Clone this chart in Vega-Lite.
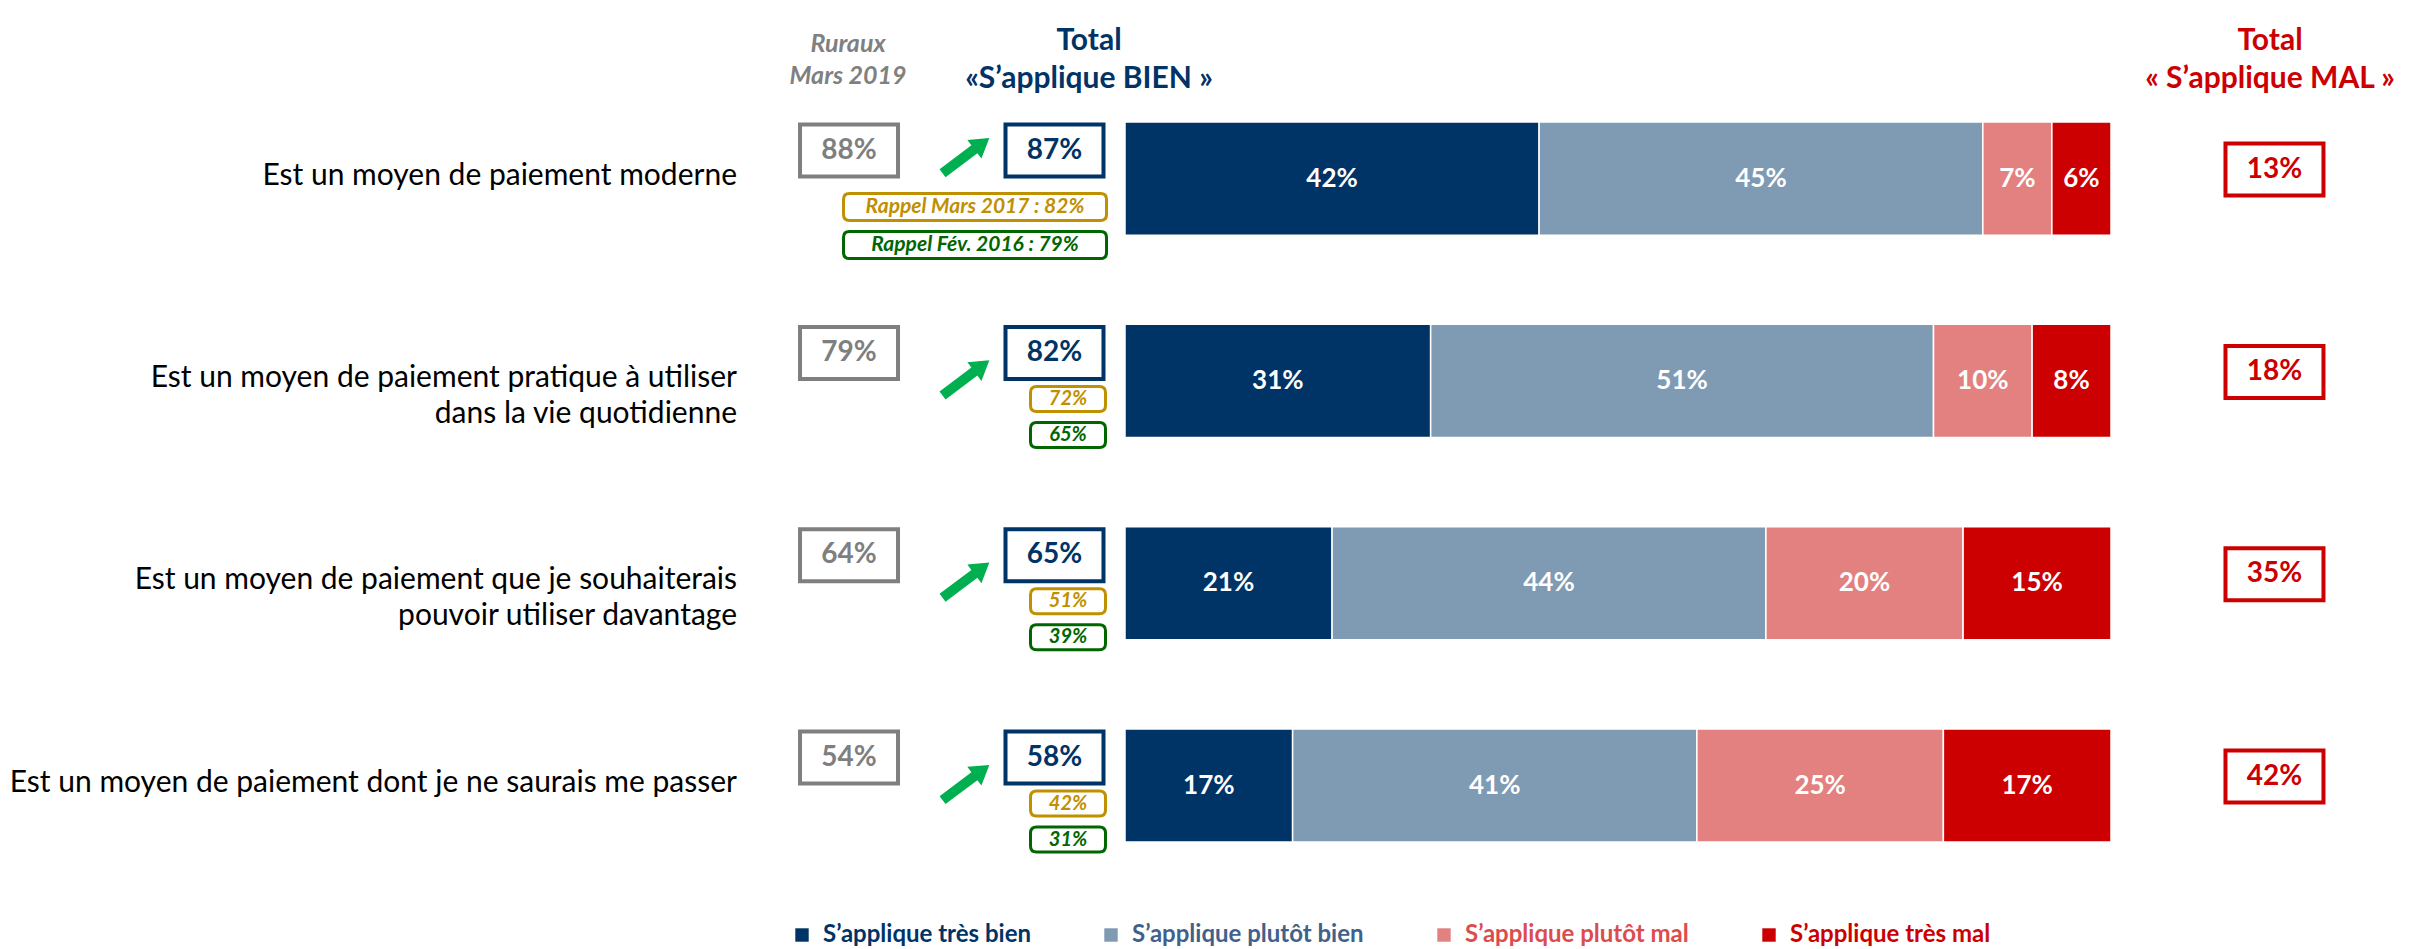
{
  "$schema": "https://vega.github.io/schema/vega-lite/v6.json",
  "width": 2421,
  "height": 949,
  "autosize": {"type": "fit", "contains": "padding"},
  "padding": 0,
  "background": "white",
  "config": {"view": {"stroke": null}, "font": "Lato"},
  "datasets": {
    "bars": [
      {"cat": "Est un moyen de paiement moderne", "level": "S’applique très bien", "pct": 0.42},
      {"cat": "Est un moyen de paiement moderne", "level": "S’applique plutôt bien", "pct": 0.45},
      {"cat": "Est un moyen de paiement moderne", "level": "S’applique plutôt mal", "pct": 0.07},
      {"cat": "Est un moyen de paiement moderne", "level": "S’applique très mal", "pct": 0.06},
      {"cat": "Est un moyen de paiement pratique à utiliser\ndans la vie quotidienne", "level": "S’applique très bien", "pct": 0.31},
      {"cat": "Est un moyen de paiement pratique à utiliser\ndans la vie quotidienne", "level": "S’applique plutôt bien", "pct": 0.51},
      {"cat": "Est un moyen de paiement pratique à utiliser\ndans la vie quotidienne", "level": "S’applique plutôt mal", "pct": 0.10},
      {"cat": "Est un moyen de paiement pratique à utiliser\ndans la vie quotidienne", "level": "S’applique très mal", "pct": 0.08},
      {"cat": "Est un moyen de paiement que je souhaiterais\npouvoir utiliser davantage", "level": "S’applique très bien", "pct": 0.21},
      {"cat": "Est un moyen de paiement que je souhaiterais\npouvoir utiliser davantage", "level": "S’applique plutôt bien", "pct": 0.44},
      {"cat": "Est un moyen de paiement que je souhaiterais\npouvoir utiliser davantage", "level": "S’applique plutôt mal", "pct": 0.20},
      {"cat": "Est un moyen de paiement que je souhaiterais\npouvoir utiliser davantage", "level": "S’applique très mal", "pct": 0.15},
      {"cat": "Est un moyen de paiement dont je ne saurais me passer", "level": "S’applique très bien", "pct": 0.17},
      {"cat": "Est un moyen de paiement dont je ne saurais me passer", "level": "S’applique plutôt bien", "pct": 0.41},
      {"cat": "Est un moyen de paiement dont je ne saurais me passer", "level": "S’applique plutôt mal", "pct": 0.25},
      {"cat": "Est un moyen de paiement dont je ne saurais me passer", "level": "S’applique très mal", "pct": 0.17}
    ],
    "items": [
      {"cat": "Est un moyen de paiement moderne", "ruraux": 0.88, "bien": 0.87, "r2017": 0.82, "r2016": 0.79, "mal": 0.13},
      {"cat": "Est un moyen de paiement pratique à utiliser\ndans la vie quotidienne", "ruraux": 0.79, "bien": 0.82, "r2017": 0.72, "r2016": 0.65, "mal": 0.18},
      {"cat": "Est un moyen de paiement que je souhaiterais\npouvoir utiliser davantage", "ruraux": 0.64, "bien": 0.65, "r2017": 0.51, "r2016": 0.39, "mal": 0.35},
      {"cat": "Est un moyen de paiement dont je ne saurais me passer", "ruraux": 0.54, "bien": 0.58, "r2017": 0.42, "r2016": 0.31, "mal": 0.42}
    ]
  },
  "layer": [
    {
      "data": {"name": "bars"},
      "transform": [
        {"calculate": "indexof(['S’applique très bien','S’applique plutôt bien','S’applique plutôt mal','S’applique très mal'], datum.level)", "as": "ord"},
        {"stack": "pct", "groupby": ["cat"], "sort": [{"field": "ord", "order": "ascending"}], "as": ["x0", "x1"]},
        {"calculate": "(datum.x0 + datum.x1) / 2", "as": "xm"}
      ],
      "layer": [
        {
          "mark": {"type": "bar", "stroke": "white", "strokeWidth": 1.5},
          "encoding": {
            "x": {"field": "x0", "type": "quantitative", "scale": {"domain": [-1.14097, 1.3144], "nice": false, "zero": false}, "axis": null},
            "x2": {"field": "x1"},
            "y": {"field": "cat", "type": "nominal", "scale": {"type": "band", "domain": ["Est un moyen de paiement moderne", "Est un moyen de paiement pratique à utiliser\ndans la vie quotidienne", "Est un moyen de paiement que je souhaiterais\npouvoir utiliser davantage", "Est un moyen de paiement dont je ne saurais me passer"], "paddingInner": 0.441, "paddingOuter": 0.566, "align": 0.533}, "axis": null},
            "color": {
              "field": "level", "type": "nominal",
              "scale": {"domain": ["S’applique très bien", "S’applique plutôt bien", "S’applique plutôt mal", "S’applique très mal"], "range": ["#003366", "#7f9ab3", "#e38080", "#cc0000"]},
              "legend": {
                "orient": "none", "legendX": 790, "legendY": 923, "direction": "horizontal", "title": null,
                "symbolType": "square", "symbolSize": 180, "symbolStrokeWidth": 0,
                "labelFont": "Lato", "labelFontSize": 24, "labelFontWeight": "bold", "labelOffset": 9, "labelLimit": 0,
                "labelColor": {"expr": "datum.value === 'S’applique plutôt bien' ? '#41618c' : datum.value === 'S’applique plutôt mal' ? '#dd4c4c' : datum.value === 'S’applique très mal' ? '#cc0000' : '#003366'"},
                "columnPadding": 68, "padding": 0
              }
            }
          }
        },
        {
          "mark": {"type": "text", "color": "white", "font": "Lato", "fontSize": 26, "fontWeight": "bold", "baseline": "middle"},
          "encoding": {
            "x": {"field": "xm", "type": "quantitative", "scale": {"domain": [-1.14097, 1.3144], "nice": false, "zero": false}, "axis": null},
            "y": {"field": "cat", "type": "nominal", "scale": {"type": "band", "domain": ["Est un moyen de paiement moderne", "Est un moyen de paiement pratique à utiliser\ndans la vie quotidienne", "Est un moyen de paiement que je souhaiterais\npouvoir utiliser davantage", "Est un moyen de paiement dont je ne saurais me passer"], "paddingInner": 0.441, "paddingOuter": 0.566, "align": 0.533}, "axis": null},
            "text": {"field": "pct", "type": "quantitative", "format": ".0%"}
          }
        }
      ]
    },
    {
      "data": {"name": "items"},
      "encoding": {
        "y": {"field": "cat", "type": "nominal", "scale": {"type": "band", "domain": ["Est un moyen de paiement moderne", "Est un moyen de paiement pratique à utiliser\ndans la vie quotidienne", "Est un moyen de paiement que je souhaiterais\npouvoir utiliser davantage", "Est un moyen de paiement dont je ne saurais me passer"], "paddingInner": 0.441, "paddingOuter": 0.566, "align": 0.533}, "axis": null}
      },
      "layer": [
        {
          "mark": {"type": "text", "align": "right", "baseline": "middle", "font": "Lato", "fontSize": 30, "color": "#000000", "lineBreak": "\n", "lineHeight": 36, "dy": -3},
          "encoding": {
            "x": {"datum": -0.3935, "type": "quantitative", "scale": {"domain": [-1.14097, 1.3144], "nice": false, "zero": false}, "axis": null},
            "text": {"field": "cat", "type": "nominal"}
          }
        },
        {
          "mark": {"type": "point", "shape": "M-1,-0.5306L1,-0.5306L1,0.5306L-1,0.5306Z", "size": 9604, "filled": true, "fill": "white", "stroke": "#7f7f7f", "strokeWidth": 4, "opacity": 1, "yOffset": -28},
          "encoding": {"x": {"datum": -0.2799, "type": "quantitative", "scale": {"domain": [-1.14097, 1.3144], "nice": false, "zero": false}, "axis": null}}
        },
        {
          "mark": {"type": "text", "baseline": "middle", "font": "Lato", "fontSize": 28, "fontWeight": "bold", "color": "#7f7f7f", "dy": -28},
          "encoding": {
            "x": {"datum": -0.2799, "type": "quantitative", "scale": {"domain": [-1.14097, 1.3144], "nice": false, "zero": false}, "axis": null},
            "text": {"field": "ruraux", "type": "quantitative", "format": ".0%"}
          }
        },
        {
          "mark": {"type": "point", "shape": "M-1,-0.5306L1,-0.5306L1,0.5306L-1,0.5306Z", "size": 9604, "filled": true, "fill": "white", "stroke": "#003366", "strokeWidth": 4, "opacity": 1, "yOffset": -28},
          "encoding": {"x": {"datum": -0.0715, "type": "quantitative", "scale": {"domain": [-1.14097, 1.3144], "nice": false, "zero": false}, "axis": null}}
        },
        {
          "mark": {"type": "text", "baseline": "middle", "font": "Lato", "fontSize": 28, "fontWeight": "bold", "color": "#003366", "dy": -28},
          "encoding": {
            "x": {"datum": -0.0715, "type": "quantitative", "scale": {"domain": [-1.14097, 1.3144], "nice": false, "zero": false}, "axis": null},
            "text": {"field": "bien", "type": "quantitative", "format": ".0%"}
          }
        },
        {
          "transform": [{"filter": "datum.cat === 'Est un moyen de paiement moderne'"}],
          "mark": {"type": "point", "shape": "M-1,-0.17L0.36,-0.17L0.36,-0.4L1,0L0.36,0.4L0.36,0.17L-1,0.17Z", "size": 3433, "angle": 323, "filled": true, "fill": "#00b050", "strokeWidth": 0, "opacity": 1, "yOffset": -23},
          "encoding": {"x": {"datum": -0.1613, "type": "quantitative", "scale": {"domain": [-1.14097, 1.3144], "nice": false, "zero": false}, "axis": null}}
        },
        {
          "transform": [{"filter": "datum.cat !== 'Est un moyen de paiement moderne'"}],
          "mark": {"type": "point", "shape": "M-1,-0.17L0.36,-0.17L0.36,-0.4L1,0L0.36,0.4L0.36,0.17L-1,0.17Z", "size": 3433, "angle": 323, "filled": true, "fill": "#00b050", "strokeWidth": 0, "opacity": 1, "yOffset": -3},
          "encoding": {"x": {"datum": -0.1613, "type": "quantitative", "scale": {"domain": [-1.14097, 1.3144], "nice": false, "zero": false}, "axis": null}}
        },
        {
          "transform": [{"filter": "datum.cat === 'Est un moyen de paiement moderne'"}, {"calculate": "'Rappel Mars 2017 : ' + format(datum.r2017, '.0%')", "as": "lab"}],
          "layer": [
            {
              "mark": {"type": "point", "shape": "M-0.9544,-0.1027L0.9544,-0.1027Q1,-0.1027 1,-0.0571L1,0.0571Q1,0.1027 0.9544,0.1027L-0.9544,0.1027Q-1,0.1027 -1,0.0571L-1,-0.0571Q-1,-0.1027 -0.9544,-0.1027Z", "size": 69169, "filled": true, "fill": "white", "stroke": "#bf9000", "strokeWidth": 3, "opacity": 1, "yOffset": 28.5},
              "encoding": {"x": {"datum": -0.1521, "type": "quantitative", "scale": {"domain": [-1.14097, 1.3144], "nice": false, "zero": false}, "axis": null}}
            },
            {
              "mark": {"type": "text", "baseline": "middle", "font": "Lato", "fontSize": 21, "fontWeight": "bold", "fontStyle": "italic", "color": "#bf9000", "dy": 28.5},
              "encoding": {
                "x": {"datum": -0.1521, "type": "quantitative", "scale": {"domain": [-1.14097, 1.3144], "nice": false, "zero": false}, "axis": null},
                "text": {"field": "lab", "type": "nominal"}
              }
            }
          ]
        },
        {
          "transform": [{"filter": "datum.cat === 'Est un moyen de paiement moderne'"}, {"calculate": "'Rappel Fév. 2016 : ' + format(datum.r2016, '.0%')", "as": "lab"}],
          "layer": [
            {
              "mark": {"type": "point", "shape": "M-0.9544,-0.1027L0.9544,-0.1027Q1,-0.1027 1,-0.0571L1,0.0571Q1,0.1027 0.9544,0.1027L-0.9544,0.1027Q-1,0.1027 -1,0.0571L-1,-0.0571Q-1,-0.1027 -0.9544,-0.1027Z", "size": 69169, "filled": true, "fill": "white", "stroke": "#006600", "strokeWidth": 3, "opacity": 1, "yOffset": 66.5},
              "encoding": {"x": {"datum": -0.1521, "type": "quantitative", "scale": {"domain": [-1.14097, 1.3144], "nice": false, "zero": false}, "axis": null}}
            },
            {
              "mark": {"type": "text", "baseline": "middle", "font": "Lato", "fontSize": 21, "fontWeight": "bold", "fontStyle": "italic", "color": "#006600", "dy": 66.5},
              "encoding": {
                "x": {"datum": -0.1521, "type": "quantitative", "scale": {"domain": [-1.14097, 1.3144], "nice": false, "zero": false}, "axis": null},
                "text": {"field": "lab", "type": "nominal"}
              }
            }
          ]
        },
        {
          "transform": [{"filter": "datum.cat !== 'Est un moyen de paiement moderne'"}],
          "layer": [
            {
              "mark": {"type": "point", "shape": "M-0.84,-0.3333L0.84,-0.3333Q1,-0.3333 1,-0.1733L1,0.1733Q1,0.3333 0.84,0.3333L-0.84,0.3333Q-1,0.3333 -1,0.1733L-1,-0.1733Q-1,-0.3333 -0.84,-0.3333Z", "size": 5625, "filled": true, "fill": "white", "stroke": "#bf9000", "strokeWidth": 3, "opacity": 1, "yOffset": 18},
              "encoding": {"x": {"datum": -0.0578, "type": "quantitative", "scale": {"domain": [-1.14097, 1.3144], "nice": false, "zero": false}, "axis": null}}
            },
            {
              "mark": {"type": "text", "baseline": "middle", "font": "Lato", "fontSize": 20, "fontWeight": "bold", "fontStyle": "italic", "color": "#bf9000", "dy": 18},
              "encoding": {
                "x": {"datum": -0.0578, "type": "quantitative", "scale": {"domain": [-1.14097, 1.3144], "nice": false, "zero": false}, "axis": null},
                "text": {"field": "r2017", "type": "quantitative", "format": ".0%"}
              }
            },
            {
              "mark": {"type": "point", "shape": "M-0.84,-0.3333L0.84,-0.3333Q1,-0.3333 1,-0.1733L1,0.1733Q1,0.3333 0.84,0.3333L-0.84,0.3333Q-1,0.3333 -1,0.1733L-1,-0.1733Q-1,-0.3333 -0.84,-0.3333Z", "size": 5625, "filled": true, "fill": "white", "stroke": "#006600", "strokeWidth": 3, "opacity": 1, "yOffset": 54},
              "encoding": {"x": {"datum": -0.0578, "type": "quantitative", "scale": {"domain": [-1.14097, 1.3144], "nice": false, "zero": false}, "axis": null}}
            },
            {
              "mark": {"type": "text", "baseline": "middle", "font": "Lato", "fontSize": 20, "fontWeight": "bold", "fontStyle": "italic", "color": "#006600", "dy": 54},
              "encoding": {
                "x": {"datum": -0.0578, "type": "quantitative", "scale": {"domain": [-1.14097, 1.3144], "nice": false, "zero": false}, "axis": null},
                "text": {"field": "r2016", "type": "quantitative", "format": ".0%"}
              }
            }
          ]
        },
        {
          "mark": {"type": "point", "shape": "M-1,-0.5306L1,-0.5306L1,0.5306L-1,0.5306Z", "size": 9604, "filled": true, "fill": "white", "stroke": "#cc0000", "strokeWidth": 4, "opacity": 1, "yOffset": -9},
          "encoding": {"x": {"datum": 1.1658, "type": "quantitative", "scale": {"domain": [-1.14097, 1.3144], "nice": false, "zero": false}, "axis": null}}
        },
        {
          "mark": {"type": "text", "baseline": "middle", "font": "Lato", "fontSize": 28, "fontWeight": "bold", "color": "#cc0000", "dy": -9},
          "encoding": {
            "x": {"datum": 1.1658, "type": "quantitative", "scale": {"domain": [-1.14097, 1.3144], "nice": false, "zero": false}, "axis": null},
            "text": {"field": "mal", "type": "quantitative", "format": ".0%"}
          }
        }
      ]
    },
    {
      "data": {"values": [{}]},
      "encoding": {
        "y": {"datum": "Est un moyen de paiement moderne", "type": "nominal", "scale": {"type": "band", "domain": ["Est un moyen de paiement moderne", "Est un moyen de paiement pratique à utiliser\ndans la vie quotidienne", "Est un moyen de paiement que je souhaiterais\npouvoir utiliser davantage", "Est un moyen de paiement dont je ne saurais me passer"], "paddingInner": 0.441, "paddingOuter": 0.566, "align": 0.533}, "axis": null}
      },
      "layer": [
        {
          "mark": {"type": "text", "align": "center", "baseline": "middle", "font": "Lato", "fontSize": 25, "fontWeight": "bold", "fontStyle": "italic", "color": "#808080", "lineBreak": "\n", "lineHeight": 32, "dy": -134.5},
          "encoding": {
            "x": {"datum": -0.2809, "type": "quantitative", "scale": {"domain": [-1.14097, 1.3144], "nice": false, "zero": false}, "axis": null},
            "text": {"value": "Ruraux\nMars 2019"}
          }
        },
        {
          "mark": {"type": "text", "align": "center", "baseline": "middle", "font": "Lato", "fontSize": 30, "fontWeight": "bold", "color": "#003366", "lineBreak": "\n", "lineHeight": 38, "dy": -137.5},
          "encoding": {
            "x": {"datum": -0.0365, "type": "quantitative", "scale": {"domain": [-1.14097, 1.3144], "nice": false, "zero": false}, "axis": null},
            "text": {"value": "Total\n«S’applique BIEN »"}
          }
        },
        {
          "mark": {"type": "text", "align": "center", "baseline": "middle", "font": "Lato", "fontSize": 30, "fontWeight": "bold", "color": "#cc0000", "lineBreak": "\n", "lineHeight": 38, "dy": -137.5},
          "encoding": {
            "x": {"datum": 1.1613, "type": "quantitative", "scale": {"domain": [-1.14097, 1.3144], "nice": false, "zero": false}, "axis": null},
            "text": {"value": "Total\n« S’applique MAL »"}
          }
        }
      ]
    }
  ]
}
